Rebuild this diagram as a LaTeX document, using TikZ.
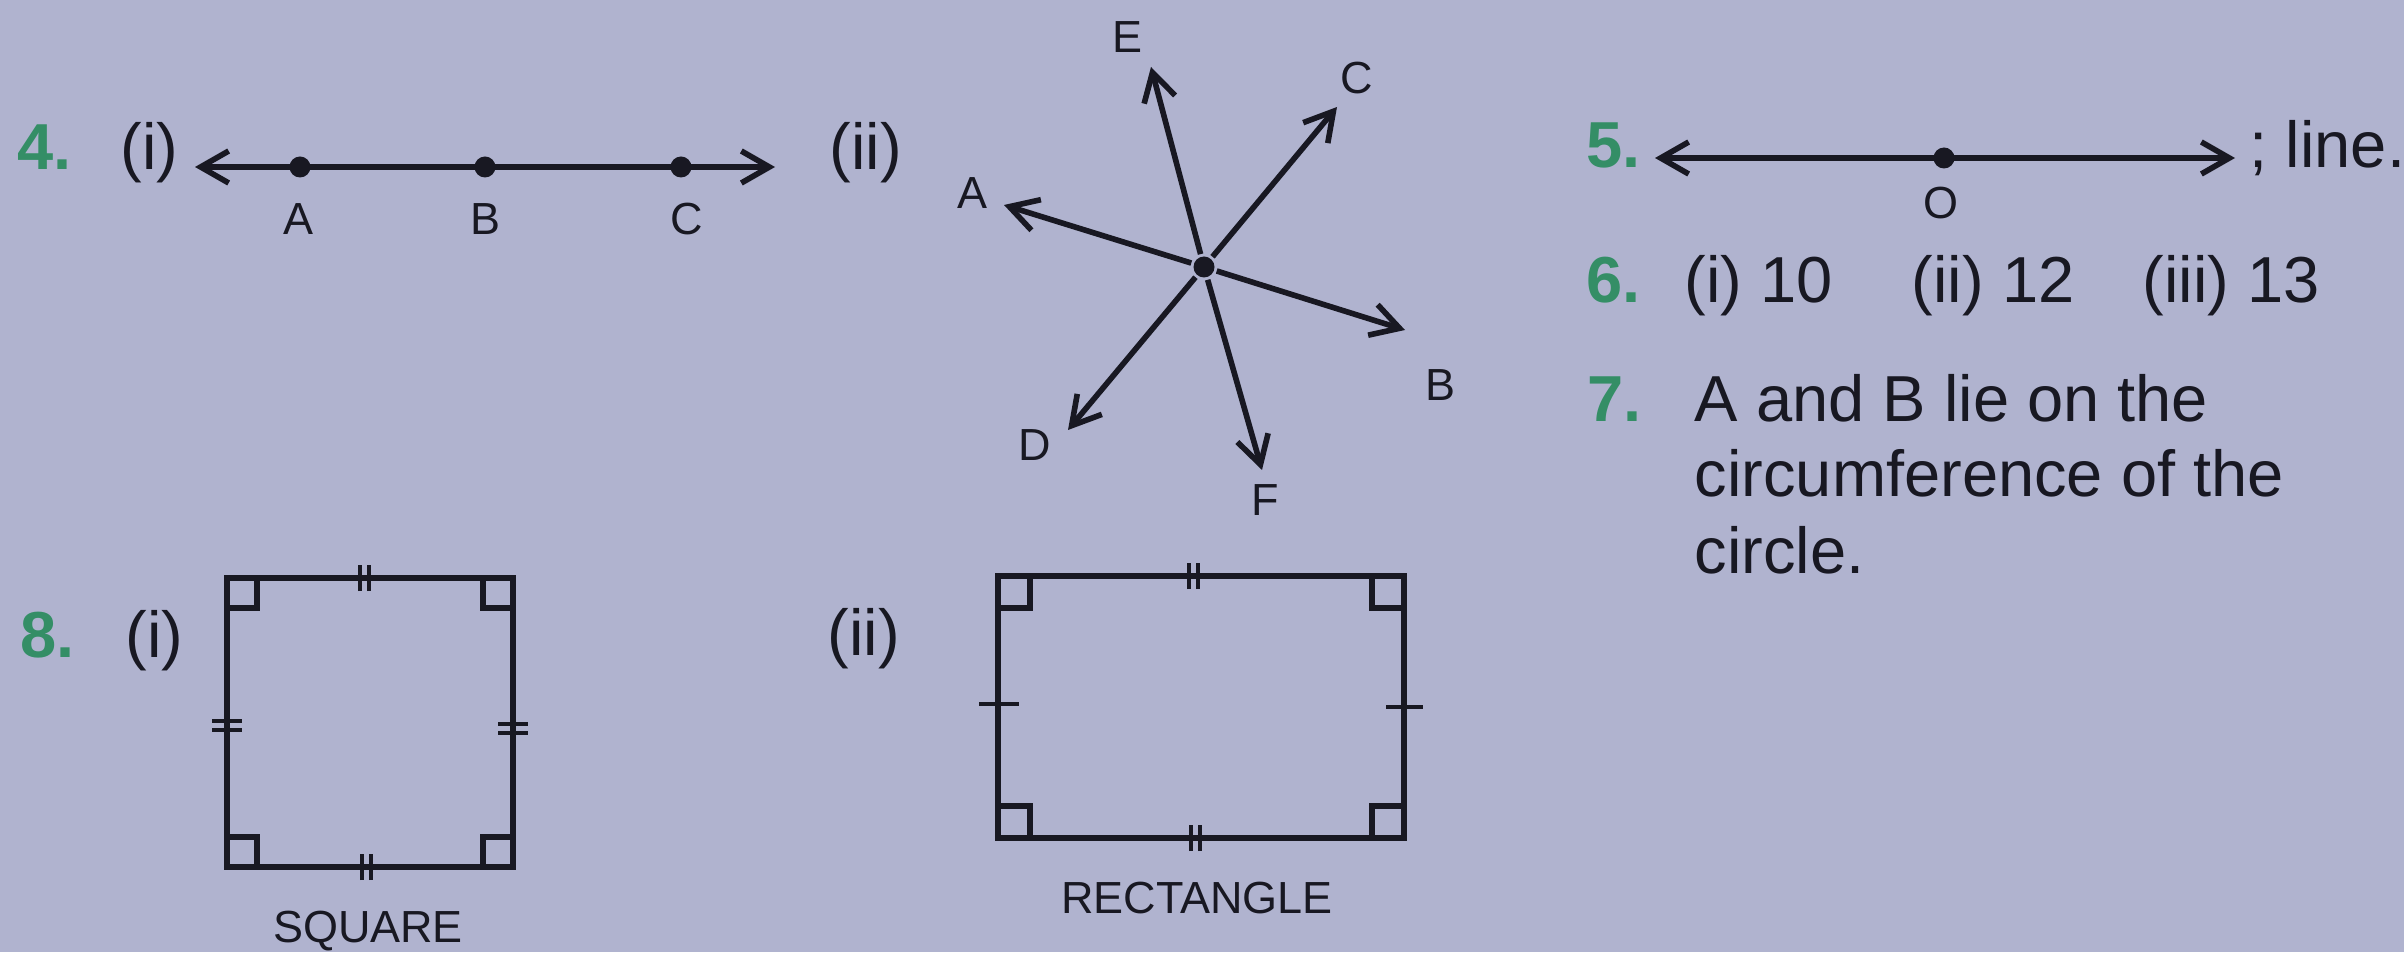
\documentclass[tikz,border=0pt]{standalone}
\usepackage{fontspec}
\setmainfont{Liberation Sans}
\usepackage{tikz}
\usetikzlibrary{arrows}
\usetikzlibrary{arrows.meta}
\definecolor{pagebg}{RGB}{176,179,207}
\definecolor{numgreen}{RGB}{52,142,102}
\definecolor{ink}{RGB}{24,24,34}

\begin{document}
\begin{tikzpicture}[line width=1.6pt, ink,
  >={Straight Barb[length=2.8mm,width=3.2mm]},
  num/.style={font=\fontsize{18.5}{22}\selectfont\bfseries, text=numgreen, anchor=base west, inner sep=0pt},
  txt/.style={font=\fontsize{18.5}{22}\selectfont, anchor=base west, inner sep=0pt},
  lab/.style={font=\fontsize{12.8}{15}\selectfont, inner sep=0pt},
  pnt/.style={circle, fill=ink, inner sep=0pt, minimum size=2.1mm},
  tk/.style={line width=1.1pt}]
\useasboundingbox (0,0) rectangle (24.04,9.52);
\fill[pagebg] (0,0) rectangle (24.04,9.52);

% 4. (i)
\draw(0.15,7.82) node[num] (n4) {4.};
\draw(1.18,7.82) node[txt] (i4) {(i)};
\coordinate (l4a) at (1.95,7.85);
\coordinate (l4b) at (7.75,7.85);
\draw[<->] (l4a) -- (l4b);
\draw(3.00,7.85) node[pnt] (pA) {};
\draw(4.85,7.85) node[pnt] (pB) {};
\draw(6.81,7.85) node[pnt] (pC) {};
\draw(2.98,7.17) node[lab,anchor=base] (lA) {A};
\draw(4.85,7.17) node[lab,anchor=base] (lB) {B};
\draw(6.87,7.17) node[lab,anchor=base] (lC) {C};

% 4. (ii)
\draw(8.27,7.82) node[txt] (ii4) {(ii)};
\draw(12.04,6.85) node[pnt] (O) {};
\coordinate (tA) at (10.04,7.47);
\coordinate (tB) at (14.05,6.22);
\coordinate (tC) at (13.37,8.45);
\coordinate (tD) at (10.68,5.22);
\coordinate (tE) at (11.51,8.85);
\coordinate (tF) at (12.62,4.82);
\draw[->] (O) -- (tA);
\draw[->] (O) -- (tB);
\draw[->] (O) -- (tC);
\draw[->] (O) -- (tD);
\draw[->] (O) -- (tE);
\draw[->] (O) -- (tF);
\draw(9.72,7.59) node[lab] (sA) {A};
\draw(14.40,5.67) node[lab] (sB) {B};
\draw(13.57,8.74) node[lab] (sC) {C};
\draw(10.35,5.07) node[lab] (sD) {D};
\draw(11.27,9.15) node[lab] (sE) {E};
\draw(12.65,4.52) node[lab] (sF) {F};

% 5.
\draw(15.84,7.84) node[num] (n5) {5.};
\coordinate (l5a) at (16.55,7.94);
\coordinate (l5b) at (22.35,7.94);
\draw[<->] (l5a) -- (l5b);
\draw(19.44,7.94) node[pnt] (pO) {};
\draw(19.41,7.49) node[lab] (lO) {O};
\draw(22.47,7.84) node[txt] (t5) {; line.};

% 6.
\draw(15.84,6.49) node[num] (n6) {6.};
\draw(16.82,6.49) node[txt] (t6a) {(i) 10};
\draw(19.09,6.49) node[txt] (t6b) {(ii) 12};
\draw(21.40,6.49) node[txt] (t6c) {(iii) 13};

% 7.
\draw(15.85,5.30) node[num] (n7) {7.};
\draw(16.92,5.30) node[txt] (t7a) {A and B lie on the};
\draw(16.92,4.55) node[txt] (t7b) {circumference of the};
\draw(16.92,3.79) node[txt] (t7c) {circle.};

% 8. (i)
\draw(0.18,2.95) node[num] (n8) {8.};
\draw(1.23,2.95) node[txt] (i8) {(i)};
\draw(2.27,0.85) rectangle (5.13,3.74);
\draw(2.27,3.44) -| (2.57,3.74);
\draw(4.83,3.74) |- (5.13,3.44);
\draw(2.27,1.15) -| (2.57,0.85);
\draw(4.83,0.85) |- (5.13,1.15);
\draw[tk] (3.60,3.61) -- (3.60,3.87) (3.69,3.61) -- (3.69,3.87);
\draw[tk] (3.62,0.72) -- (3.62,0.98) (3.71,0.72) -- (3.71,0.98);
\draw[tk] (2.12,2.22) -- (2.42,2.22) (2.12,2.31) -- (2.42,2.31);
\draw[tk] (4.98,2.19) -- (5.28,2.19) (4.98,2.28) -- (5.28,2.28);
\draw(3.68,0.10) node[lab,anchor=base] (sq) {SQUARE};

% 8. (ii)
\draw(8.25,2.97) node[txt] (ii8) {(ii)};
\draw(9.98,1.14) rectangle (14.04,3.76);
\draw(9.98,3.44) -| (10.30,3.76);
\draw(13.72,3.76) |- (14.04,3.44);
\draw(9.98,1.46) -| (10.30,1.14);
\draw(13.72,1.14) |- (14.04,1.46);
\draw[tk] (11.89,3.63) -- (11.89,3.89) (11.98,3.63) -- (11.98,3.89);
\draw[tk] (11.91,1.01) -- (11.91,1.27) (12.00,1.01) -- (12.00,1.27);
\draw[tk] (9.79,2.48) -- (10.19,2.48);
\draw[tk] (13.86,2.45) -- (14.23,2.45);
\draw(11.97,0.39) node[lab,anchor=base] (rc) {RECTANGLE};
\end{tikzpicture}
\end{document}
